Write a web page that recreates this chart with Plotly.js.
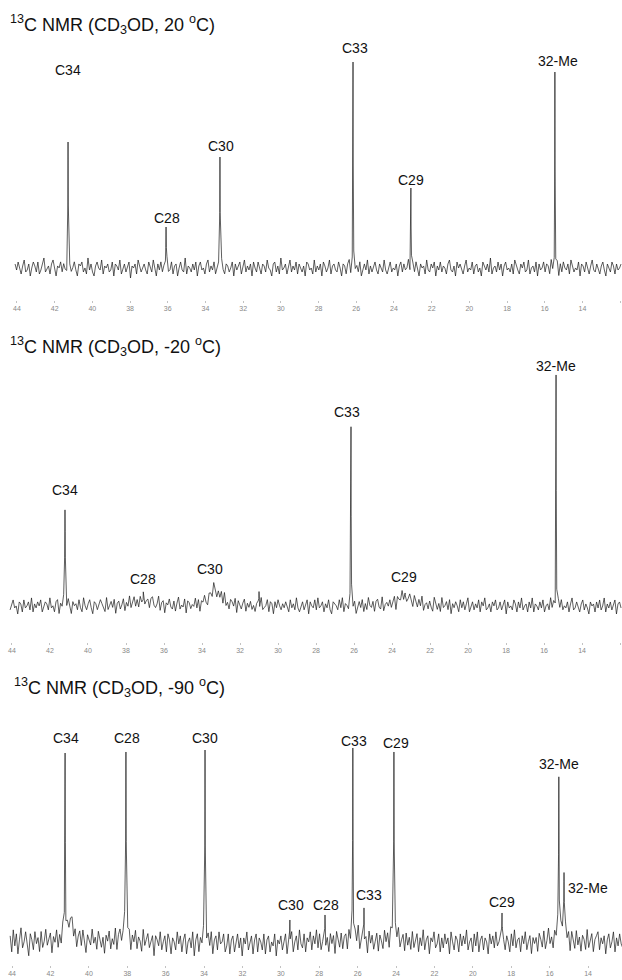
<!DOCTYPE html>
<html><head><meta charset="utf-8">
<script src="https://cdn.plot.ly/plotly-3.0.1.min.js"></script>
<style>html,body{margin:0;padding:0;background:#fff}#chart{width:622px;height:980px}</style>
</head><body><div id="chart"></div>
<script>
// ---------- data ----------
const ppmTicks = [44,42,40,38,36,34,32,30,28,26,24,22,20,18,16,14,12];
const tickLabels = ppmTicks.map(String);

const panelTitles = [
  '<sup>13</sup>C NMR (CD<sub>3</sub>OD, 20 <sup>o</sup>C)',
  '<sup>13</sup>C NMR (CD<sub>3</sub>OD, -20 <sup>o</sup>C)',
  '<sup>13</sup>C NMR (CD<sub>3</sub>OD, -90 <sup>o</sup>C)'
];

// Panel 1: 20 °C
const p1Labels   = ['C34','C28','C30','C33','C29','32-Me'];
const p1Ppm      = [41.29, 36.09, 33.23, 26.17, 23.10, 15.46];
const p1Height   = [63, 20.5, 55.5, 103, 40, 98];
const p1Width    = [0.012, 0.015, 0.01, 0.01, 0.012, 0.01];
const p1LabelPpm = [41.29, 36.04, 33.18, 26.07, 23.10, 15.30];
const p1LabelY   = [99, 25, 61, 110, 44, 103.5];
const p1Noise = [
  2,-1,3,0,-3,1,4,-2,-1,2,-4,0,3,1,-2,3,-3,-1,2,5,
  -2,0,1,-3,2,4,-1,-4,1,0,3,-2,2,-1,-3,4,1,-2,0,3,
  -1,-4,2,1,3,-2,0,-3,5,-1,2,-2,-4,1,3,0,-1,4,-3,1,
  0,2,-2,-1,3,-4,2,1,-1,4,-3,0,2,-2,1,3,-5,1,0,2,
  -3,4,1,-2,0,2,-1,-3,3,1,-2,4,0,-4,2,-1,3,-2,1,0,
  4,-2,-1,3,-3,1,2,-4,0,3,-1,-2,5,-3,1,0,-2,2,-1,3,
  -4,1,3,-1,0,-3,2,4,-2,1,-1,3,-3,0,2,-2,4,-1,-3,2,
  1,-2,0,3,-4,2,-1,1,3,-3,0,4,-2,1,-1,2,-4,3,0,-2,
  3,-1,-3,2,1,-2,4,0,-1,-4,2,3,-2,1,-3,5,-1,0,2,-3,
  0,4,-2,1,-1,3,-3,2,0,-2,1,-4,3,2,-1,0,-3,4,-2,1,
  -1,2,-4,3,1,-2,0,4,-3,1,2,-1,-2,3,0,-4,2,1,-3,2,
  4,-3,0,2,-1,1,-2,3,-4,0,2,-1,4,-3,1,-2,0,3,-1,-3,
  2,0,-2,4,-1,-3,1,3,-2,0,-1,2,-4,1,3,-2,2,-1,0,4,
  -3,1,2,-2,3,-1,-4,2,0,1,-3,4,-1,-2,2,0,3,-4,1,-1,
  3,-2,1,0,-3,2,4,-1,-2,1,-4,3,0,2,-1,-3,1,4,-2,0,
  -1,3,-3,1,2,-2,0,-4,3,1,-1,2,-2,5,-3,0,1,-2,3,-1,
  2,-4,1,3,-1,0,-2,2,-3,4,1,-1,-3,2,0,3,-2,-1,4,-3,
  0,1,-2,3,-4,2,-1,0,3,-2,2,1,-3,4,-1,-2,0,3,-4,2,
  -2,3,0,-1,2,-3,4,1,-2,0,-1,3,-4,2,1,-2,3,0,-3,1,
  4,-1,-2,2,0,-3,1,3,-1,-4,2,0,-2,3,1,-3,2,-1,0,2
];

// Panel 2: -20 °C
const p2Labels   = ['C34','C28','C30','','C33','C29','32-Me'];
const p2Ppm      = [41.21, 37.10, 33.31, 31.00, 26.16, 23.31, 15.37];
const p2Height   = [48, 3, 8, 7, 89.5, 5.5, 115.5];
const p2Width    = [0.02, 0.5, 0.35, 0.01, 0.01, 0.4, 0.01];
const p2LabelPpm = [41.21, 37.10, 33.58, 31.00, 26.37, 23.37, 15.37];
const p2LabelY   = [58, 13.5, 18.5, 0, 97, 14.5, 120];
const p2Noise = [
  -2,1,3,-1,0,-4,2,1,-3,3,-1,0,2,-2,4,-3,1,-1,2,0,
  3,-3,-1,2,1,-2,4,-1,0,-3,2,3,-4,1,-1,2,0,-2,3,-1,
  -4,2,0,1,-2,3,-1,-3,4,0,-2,1,3,-1,-4,2,1,-2,0,3,
  1,-1,-3,4,-2,0,2,-1,3,-4,1,2,-2,0,3,-3,1,-1,4,-2,
  0,3,-2,1,-3,2,-1,4,-2,0,1,-3,2,3,-1,-2,0,4,-3,1,
  2,-4,1,0,3,-1,-2,2,-3,1,4,-2,0,-1,3,-4,2,1,-2,0,
  -1,3,-2,2,-4,1,0,3,-1,-3,2,1,-2,4,0,-3,1,-1,3,-2,
  4,-2,0,-3,2,1,-1,3,-4,2,0,-2,1,3,-3,1,-1,2,-2,0,
  -3,1,2,-1,4,-2,-1,0,3,-3,2,1,-4,2,-1,3,0,-2,1,-1,
  2,0,-3,3,-1,1,-2,4,-1,-3,0,2,-2,1,3,-4,2,0,-1,3,
  -2,4,-1,0,2,-3,1,-1,3,-2,-4,2,1,0,-2,3,-1,4,-3,1,
  0,-2,3,1,-1,2,-4,0,2,-1,3,-3,1,-2,4,0,-1,2,-3,2,
  3,-1,-2,4,-3,0,1,-1,2,-2,1,3,-4,2,0,-1,3,-2,1,-3,
  -1,2,0,-3,3,1,-2,2,-1,4,-3,0,1,-2,2,-1,-3,4,0,-2,
  1,-3,4,-1,0,2,-2,3,-4,1,-1,2,0,-3,3,-1,2,-2,1,4,
  -3,0,2,-2,1,-1,3,-3,2,0,4,-2,-1,1,-3,2,0,3,-2,-1,
  2,-2,1,3,-4,2,-1,0,-2,3,1,-3,2,-1,4,-2,0,1,-3,2,
  -1,4,-3,1,0,-2,2,-1,3,-3,0,1,-2,4,-1,2,-4,0,3,-1,
  3,-2,0,-1,2,-3,1,4,-2,-1,2,0,-3,1,3,-2,1,-1,-4,2,
  0,1,-3,2,-1,3,-2,0,4,-3,1,-1,2,-2,0,3,-4,1,2,-1
];

// Panel 3: -90 °C
const p3Labels   = ['C34','C28','C30','C30','C28','C33','C33','C29','C29','32-Me','32-Me'];
const p3Ppm      = [41.24, 38.07, 33.95, 29.53, 27.70, 26.25, 25.67, 24.11, 18.48, 15.52, 15.25];
const p3Height   = [94.5, 95, 96, 11, 13.5, 97, 17, 95, 14.5, 82.5, 34.5];
const p3Width    = [0.015, 0.015, 0.012, 0.012, 0.012, 0.012, 0.01, 0.012, 0.01, 0.015, 0.015];
const p3LabelPpm = [41.19, 38.02, 33.95, 29.47, 27.65, 26.19, 25.41, 24.00, 18.48, 15.52, 15.15];
const p3LabelY   = [102, 102, 102, 18.5, 18.5, 100.5, 23.5, 99.5, 20, 89, 27];
// broad bases under the -90 °C lines
const p3BasePpm    = [41.0, 38.12, 26.2, 24.12, 15.4];
const p3BaseHeight = [8, 6, 5, 5, 7];
const p3BaseWidth  = [0.25, 0.2, 0.2, 0.2, 0.25];
const p3Noise = [
  3,-5,6,-2,4,-6,1,7,-3,0,5,-2,-7,4,1,-4,5,-1,2,-5,
  5,-3,0,6,-2,1,4,-6,2,-1,5,-4,2,-3,6,0,-5,3,-1,4,
  6,-2,3,-5,1,4,-3,5,0,-6,3,1,-2,6,-1,2,-4,5,1,-3,
  2,-6,3,0,5,-4,1,-2,6,-5,2,4,-3,0,5,-4,1,3,-6,2,
  -1,5,-4,2,0,-5,6,-2,1,4,-3,0,3,-7,3,1,-2,5,-4,0,
  3,-5,4,1,-6,2,0,-4,5,-1,3,-5,1,4,-6,0,2,-3,5,-7,
  1,4,-5,2,-1,6,-3,0,4,-2,5,-6,1,3,-4,5,-1,0,4,-5,
  -2,4,-6,1,3,-5,0,4,-3,2,-7,2,-1,5,-4,0,3,-6,1,4,
  -5,2,0,-4,4,-6,1,3,-5,0,-2,4,-7,1,-1,3,-4,0,4,-6,
  1,-3,5,-5,0,3,-4,6,-1,-3,4,-5,2,0,5,-4,3,-1,6,-3,
  4,-4,0,5,-3,2,-5,4,-1,3,-6,5,0,-3,4,-4,2,3,-5,4,
  -2,5,-4,1,-3,6,-5,0,4,-2,2,-6,5,-1,3,-4,0,4,-5,3,
  0,-4,5,-1,3,-5,4,1,-6,3,-1,5,-4,0,3,-5,4,-2,2,-4,
  5,-3,1,4,-5,2,-2,6,-4,1,3,-6,2,0,5,-3,-1,4,-5,2,
  -3,4,-1,2,-6,5,0,-4,3,1,-5,4,-2,3,-1,6,-4,0,2,-5,
  4,-2,5,-5,1,3,-4,2,0,-6,4,-1,3,-3,5,-2,0,4,-6,1,
  -4,3,0,-5,4,-2,6,-3,1,2,-5,3,-1,5,-4,0,3,-6,2,-1,
  2,-5,4,1,-3,5,-4,0,6,-2,1,-5,3,-1,4,-6,2,0,-3,5,
  -1,3,-6,4,0,-4,5,-2,2,-5,3,1,-4,6,-3,0,4,-5,1,3,
  5,-4,2,-1,3,-6,1,4,-3,0,5,-5,2,-2,4,-1,-3,5,-4,2
];

// ---------- rendering ----------
const NOISE_START = 44.1, NOISE_END = 11.95;

function lorentz(x, p, h, w) { return h * w * w / ((x - p) * (x - p) + w * w); }

function buildSpectrum(noise, ppm, height, width, bppm, bheight, bwidth) {
  bppm = bppm || []; bheight = bheight || []; bwidth = bwidth || [];
  const base = x => bppm.reduce((s, p, k) => s + lorentz(x, p, bheight[k], bwidth[k]), 0);
  // line amplitudes chosen so that the drawn apex equals the height
  const amp = ppm.map((p, k) => height[k] - base(p));
  const shape = x => base(x) + ppm.reduce((s, p, k) => s + lorentz(x, p, amp[k], width[k]), 0);
  const step = (NOISE_START - NOISE_END) / (noise.length - 1);
  const pts = [];
  noise.forEach((v, i) => { const x = NOISE_START - i * step; pts.push([x, v + shape(x)]); });
  ppm.forEach((p, k) => {
    pts.push([p, shape(p)]);
    if (width[k] < 0.1) {
      pts.push([p - width[k], shape(p - width[k])]);
      pts.push([p + width[k], shape(p + width[k])]);
    }
  });
  pts.sort((a, b) => b[0] - a[0]);
  return { x: pts.map(q => q[0]), y: pts.map(q => q[1]) };
}

const H = 980;
const frac = px => 1 - px / H;
const panels = [
  { labels: p1Labels, ppm: p1Ppm, height: p1Height, width: p1Width, lppm: p1LabelPpm, ly: p1LabelY, noise: p1Noise,
    xr: [44.9, 11.9], dom: [40, 300], yr: [-16, 114], titleY: 25, titleX: 8 },
  { labels: p2Labels, ppm: p2Ppm, height: p2Height, width: p2Width, lppm: p2LabelPpm, ly: p2LabelY, noise: p2Noise,
    xr: [44.63, 11.9], dom: [360, 642], yr: [-18, 123], titleY: 346, titleX: 8 },
  { labels: p3Labels, ppm: p3Ppm, height: p3Height, width: p3Width, lppm: p3LabelPpm, ly: p3LabelY, noise: p3Noise,
    bppm: p3BasePpm, bh: p3BaseHeight, bw: p3BaseWidth,
    xr: [44.63, 12.23], dom: [710, 965], yr: [-11.5, 116], titleY: 687, titleX: 12 }
];

const traces = [];
const annotations = [];
const layout = {
  width: 622, height: 980,
  margin: { l: 0, r: 0, t: 0, b: 0 },
  paper_bgcolor: '#ffffff', plot_bgcolor: '#ffffff',
  showlegend: false,
  font: { family: '"Liberation Sans", Arial, sans-serif', color: '#111' }
};

panels.forEach((pn, i) => {
  const n = i === 0 ? '' : String(i + 1);
  const s = buildSpectrum(pn.noise, pn.ppm, pn.height, pn.width, pn.bppm, pn.bh, pn.bw);
  traces.push({
    type: 'scatter', mode: 'lines', x: s.x, y: s.y, cliponaxis: false,
    xaxis: 'x' + n, yaxis: 'y' + n,
    line: { color: '#1a1a1a', width: 0.7 }, hoverinfo: 'skip'
  });
  layout['xaxis' + n] = {
    domain: [0, 1], anchor: 'y' + n, range: pn.xr,
    tickmode: 'array', tickvals: ppmTicks, ticktext: tickLabels,
    ticks: 'outside', ticklen: 2, tickcolor: '#999', tickwidth: 0.6,
    tickfont: { size: 7, color: '#888' },
    showgrid: false, zeroline: false, showline: false, fixedrange: true
  };
  layout['yaxis' + n] = {
    domain: [frac(pn.dom[1]), frac(pn.dom[0])], anchor: 'x' + n, range: pn.yr,
    visible: false, showgrid: false, zeroline: false, fixedrange: true
  };
  annotations.push({
    xref: 'paper', yref: 'paper', x: pn.titleX / 622, y: frac(pn.titleY),
    xanchor: 'left', yanchor: 'middle', showarrow: false,
    text: panelTitles[i], font: { size: 18, color: '#111' }
  });
  pn.labels.forEach((t, k) => {
    if (!t) return;
    const left = (i === 2 && k === pn.labels.length - 1);
    annotations.push({
      xref: 'x' + n, yref: 'y' + n, x: pn.lppm[k], y: pn.ly[k],
      xanchor: left ? 'left' : 'center', yanchor: 'middle', showarrow: false,
      text: t, font: { size: 14, color: '#111' }
    });
  });
});
layout.annotations = annotations;

Plotly.newPlot('chart', traces, layout, { staticPlot: true, displayModeBar: false });
</script>
</body></html>
